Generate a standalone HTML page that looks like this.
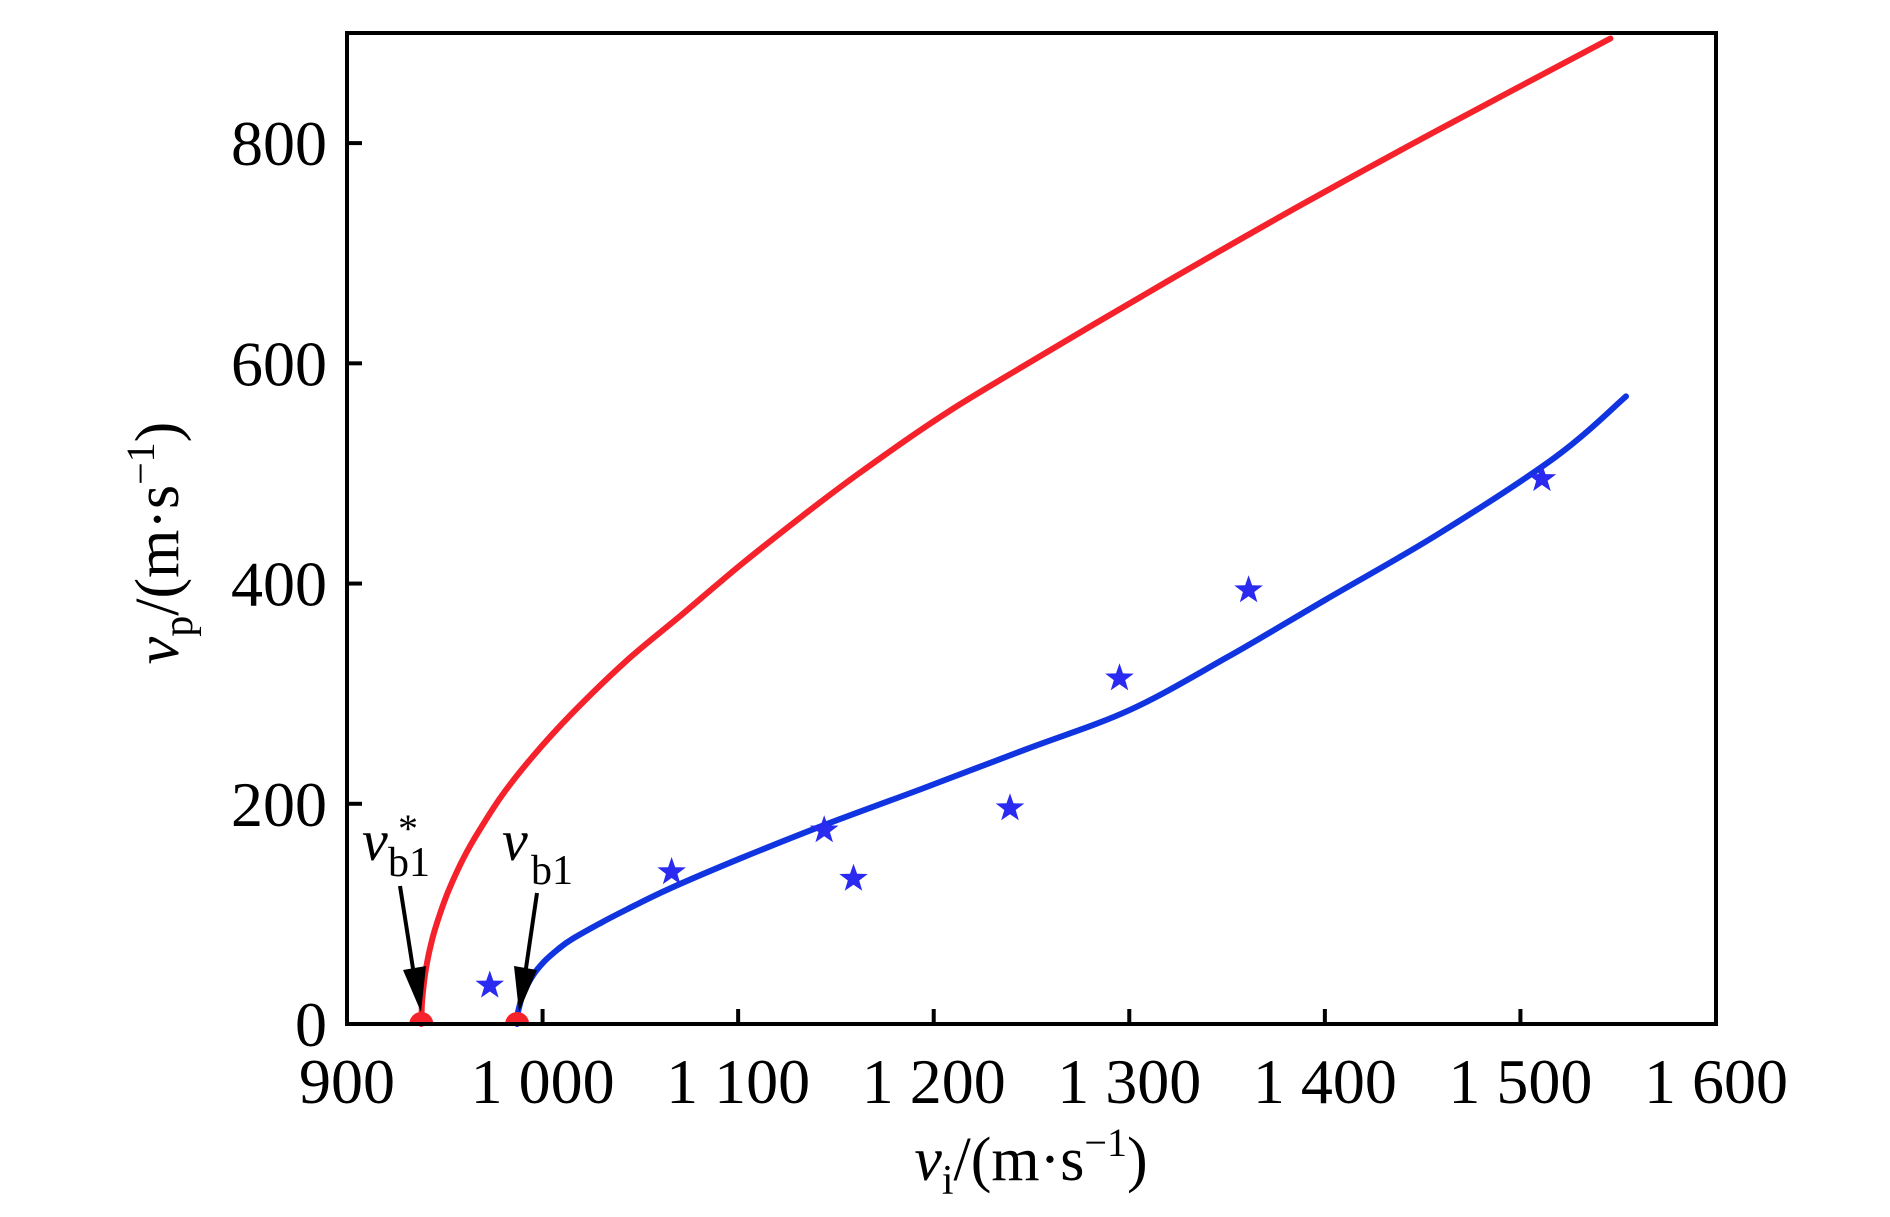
<!DOCTYPE html>
<html><head><meta charset="utf-8"><style>
html,body{margin:0;padding:0;background:#fff;}
svg{display:block;font-family:"Liberation Serif",serif;}
</style></head><body>
<svg id="chart" width="1890" height="1217" viewBox="0 0 1890 1217" xmlns="http://www.w3.org/2000/svg">
<rect width="1890" height="1217" fill="#fff"/>
<g id="plot"></g>
<text transform="translate(178,543) rotate(-90)" text-anchor="middle" font-size="62"><tspan font-style="italic">v</tspan><tspan font-size="42" dy="14">p</tspan><tspan dy="-14">/(m·s</tspan><tspan font-size="40" dy="-24">−1</tspan><tspan dy="24">)</tspan></text>
<text x="1031" y="1180" text-anchor="middle" font-size="62"><tspan font-style="italic">v</tspan><tspan font-size="42" dy="14">i</tspan><tspan dy="-14">/(m·s</tspan><tspan font-size="40" dy="-24">−1</tspan><tspan dy="24">)</tspan></text>
<g>
<text x="362" y="860" font-size="58" font-style="italic">v</text>
<text x="388" y="876" font-size="42">b1</text>
<text x="398" y="842" font-size="40">*</text>
</g>
<g>
<text x="502" y="860" font-size="58" font-style="italic">v</text>
<text x="531" y="884" font-size="42">b1</text>
</g>
<g>
<line x1="400" y1="886" x2="414" y2="975" stroke="#000" stroke-width="4"/>
<polygon points="403,970 426,966 421,1012" fill="#000"/>
</g>
<g>
<line x1="537" y1="893" x2="525" y2="975" stroke="#000" stroke-width="4"/>
<polygon points="514,966 537,970 519,1012" fill="#000"/>
</g>
</svg>
<script>
const xTicks=[900,1000,1100,1200,1300,1400,1500,1600];
const xTickLabels=["900","1 000","1 100","1 200","1 300","1 400","1 500","1 600"];
const yTicks=[0,200,400,600,800];
const yTickLabels=["0","200","400","600","800"];
const redX=[938,938.3,939,940,942,945,951,958,965,979,995,1015,1043,1070,1102,1134,1161,1198,1234,1319,1388,1458,1546];
const redY=[0,18,32,46,65,86,117,145,168,207,243,282,330,370,418,463,499,545,585,674,744,812,895];
const blueX=[987,987.3,988,990,995,1001,1008,1015,1030,1043,1065,1102,1143,1193,1248,1300,1350,1400,1458,1518,1554];
const blueY=[0,9,15,27,44,57,68,77,92,104,123,151,180,213,250,285,333,385,445,515,570];
const starX=[973,1066,1144,1159,1239,1295,1361,1511];
const starY=[35,138,176,132,196,314,394,495];
const startX=[938,987];
const L=347,R=1716,T=33,B=1024,xmin=900,xmax=1600,ymin=0,ymax=900;
const sx=v=>L+(v-xmin)/(xmax-xmin)*(R-L);
const sy=v=>B-(v-ymin)/(ymax-ymin)*(B-T);
const NS="http://www.w3.org/2000/svg";
const g=document.getElementById('plot');
function mk(t,a){const e=document.createElementNS(NS,t);for(const k in a)e.setAttribute(k,a[k]);g.appendChild(e);return e;}
function curve(xs,ys,color,name){
  const P=xs.map((x,i)=>[sx(x),sy(ys[i])]);
  let d='M'+P[0][0].toFixed(1)+','+P[0][1].toFixed(1);
  for(let i=0;i<P.length-1;i++){
    const p0=P[i-1]||P[i],p1=P[i],p2=P[i+1],p3=P[i+2]||P[i+1];
    const c1=[p1[0]+(p2[0]-p0[0])/6,p1[1]+(p2[1]-p0[1])/6];
    const c2=[p2[0]-(p3[0]-p1[0])/6,p2[1]-(p3[1]-p1[1])/6];
    d+='C'+c1.map(v=>v.toFixed(1)).join(',')+' '+c2.map(v=>v.toFixed(1)).join(',')+' '+p2.map(v=>v.toFixed(1)).join(',');
  }
  const p=mk('path',{d:d,fill:'none',stroke:color,'stroke-width':6,'stroke-linejoin':'round','stroke-linecap':'round'});
  
  
}
curve(redX,redY,'#f5222b','red-curve');
curve(blueX,blueY,'#1034e0','blue-curve');
starX.forEach((x,i)=>{
  const cx=sx(x),cy=sy(starY[i]);let pts=[];
  for(let k=0;k<10;k++){const r=k%2?6:15;const a=-Math.PI/2+k*Math.PI/5;pts.push((cx+r*Math.cos(a)).toFixed(1)+','+(cy+r*Math.sin(a)).toFixed(1));}
  const s=mk('polygon',{points:pts.join(' '),fill:'#2a2af0'});
  
  
});
startX.forEach(x=>{
  const cx=sx(x);
  const m=mk('path',{d:`M${cx-12},${B} A12,12 0 0 1 ${cx+12},${B} Z`,fill:'#f5222b'});
  
  
});
const f=mk('rect',{x:L,y:T,width:R-L,height:B-T,fill:'none',stroke:'#000','stroke-width':4});


xTicks.forEach((v,i)=>{
  const x=sx(v);
  if(i>0&&i<xTicks.length-1){const t=mk('line',{x1:x,y1:B,x2:x,y2:B-15,stroke:'#000','stroke-width':4});
  
  }
  const tx=mk('text',{x:x,y:1103,'text-anchor':'middle','font-size':64});
  tx.textContent=xTickLabels[i];
  
  
});
yTicks.forEach((v,i)=>{
  const y=sy(v);
  if(i>0){const t=mk('line',{x1:L,y1:y,x2:L+15,y2:y,stroke:'#000','stroke-width':4});
  
  }
  const tx=mk('text',{x:327,y:y+22,'text-anchor':'end','font-size':64});
  tx.textContent=yTickLabels[i];
  
  
});
</script>
</body></html>
